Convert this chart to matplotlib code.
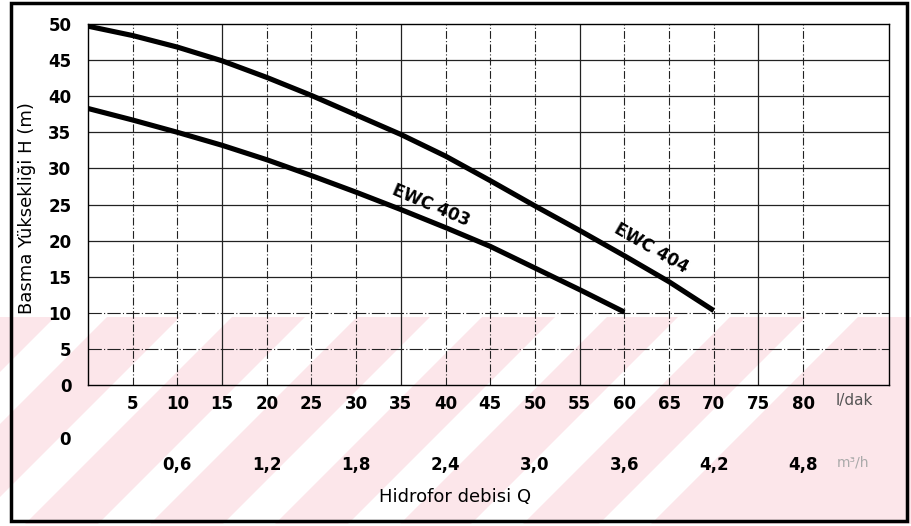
import matplotlib.pyplot as plt
from matplotlib.patches import Polygon, Rectangle
import matplotlib.transforms as mtransforms

# pump curves (Q in l/dak, H in m)
q_404 = [0, 5, 10, 15, 20, 25, 30, 35, 40, 45, 50, 55, 60, 65, 70]
h_404 = [49.7, 48.4, 46.8, 44.9, 42.6, 40.1, 37.4, 34.7, 31.7, 28.3, 24.8, 21.4, 17.9, 14.3, 10.3]
q_403 = [0, 5, 10, 15, 20, 25, 30, 35, 40, 45, 50, 55, 60]
h_403 = [38.3, 36.7, 35.0, 33.2, 31.2, 29.0, 26.7, 24.3, 21.8, 19.2, 16.2, 13.2, 10.1]

x_ticks = [5, 10, 15, 20, 25, 30, 35, 40, 45, 50, 55, 60, 65, 70, 75, 80]
y_ticks = [0, 5, 10, 15, 20, 25, 30, 35, 40, 45, 50]
m3h_ticks = [0.6, 1.2, 1.8, 2.4, 3.0, 3.6, 4.2, 4.8]
solid_x = [15, 35, 55, 75]

W, H = 912, 526
fig = plt.figure(figsize=(W / 100, H / 100), dpi=100)

# background layer in pixel coords: watermark + outer frame
bg = fig.add_axes([0, 0, 1, 1], zorder=0)
bg.set_xlim(0, W)
bg.set_ylim(H, 0)
bg.axis('off')
y0, y1 = 317, 524
bg.add_patch(Rectangle((0, y0), W, y1 - y0, color='#fce6ea', lw=0))
for xt in [55, 180, 305, 430, 555, 678, 806]:
    d = y1 - y0
    bg.add_patch(Polygon([(xt, y0), (xt + 52, y0), (xt + 52 - d, y1), (xt - d, y1)],
                         closed=True, color='white', lw=0))
bg.add_patch(Rectangle((11, 3), 896, 518, fill=False, lw=2.5, ec='black'))

# main chart
left, right, top, bottom = 88, 889, 24, 385
ax = fig.add_axes([left / W, (H - bottom) / H, (right - left) / W, (bottom - top) / H], zorder=1)
ax.patch.set_alpha(0)
ax.set_xlim(0, 89.6)
ax.set_ylim(0, 50)

for x in x_ticks:
    if x in solid_x:
        ax.axvline(x, color='#222222', lw=0.9)
    else:
        ax.axvline(x, color='#222222', lw=0.8, dashes=(7, 2, 1, 2))
for y in y_ticks[1:-1]:
    if y <= 10:
        ax.axhline(y, color='#222222', lw=0.8, dashes=(12, 2, 1, 2))
    else:
        ax.axhline(y, color='#222222', lw=0.9)

ax.plot(q_404, h_404, color='black', lw=3.7, solid_capstyle='butt', solid_joinstyle='round')
ax.plot(q_403, h_403, color='black', lw=3.7, solid_capstyle='butt', solid_joinstyle='round')

ax.text(38.4, 24.8, 'EWC 403', rotation=-23, rotation_mode='anchor', ha='center', va='center',
        fontsize=12, fontweight='bold')
ax.text(63.0, 19.0, 'EWC 404', rotation=-30, rotation_mode='anchor', ha='center', va='center',
        fontsize=12, fontweight='bold')

for s in ax.spines.values():
    s.set_linewidth(1.0)
ax.set_xticks(x_ticks)
ax.set_xticklabels([str(v) for v in x_ticks], fontsize=12, fontweight='bold')
ax.set_yticks(y_ticks)
ax.set_yticklabels([str(v) for v in y_ticks], fontsize=12, fontweight='bold')
ax.tick_params(axis='x', length=0, pad=7)
ax.tick_params(axis='y', length=0, pad=12)

# second scale in m3/h
tr = mtransforms.blended_transform_factory(ax.transData, ax.transAxes)
for m in m3h_ticks:
    ax.text(m / 0.06, -0.222, f'{m:.1f}'.replace('.', ','), transform=tr, ha='center', va='center',
            fontsize=12, fontweight='bold', clip_on=False)
ax.text(-2.6, -0.152, '0', transform=tr, ha='center', va='center', fontsize=12,
        fontweight='bold', clip_on=False)
ax.text(83.6, -0.042, 'l/dak', transform=tr, ha='left', va='center', fontsize=11,
        color='#555555', clip_on=False)
ax.text(83.8, -0.215, 'm³/h', transform=tr, ha='left', va='center', fontsize=10,
        color='#aaaaaa', clip_on=False)

fig.text(455 / W, 1 - 497 / H, 'Hidrofor debisi Q', ha='center', va='center', fontsize=13)
fig.text(27 / W, 1 - 208 / H, 'Basma Yüksekliği H (m)', rotation=90, ha='center', va='center',
         fontsize=13)

fig.savefig('out.png', dpi=100)
